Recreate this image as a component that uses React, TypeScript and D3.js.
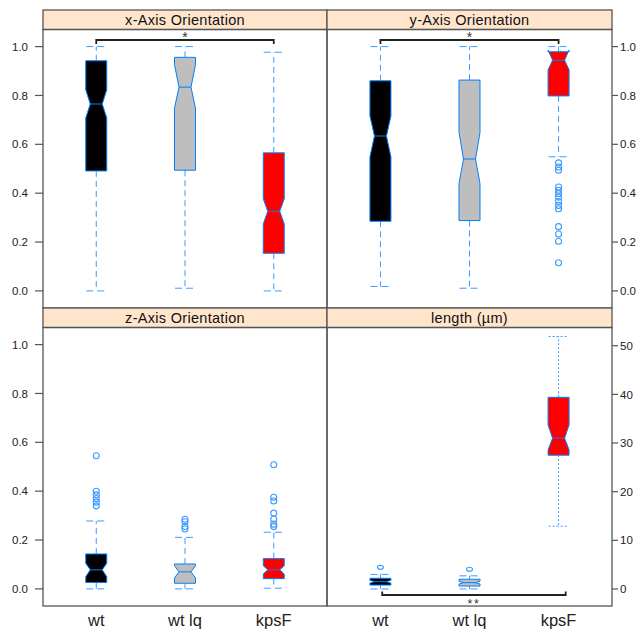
import React from "react";
import * as d3 from "d3";

const categories = ["wt", "wt lq", "kpsF"];
const boxFills = ["#000000", "#bebebe", "#ff0000"];
const panelTitles = ["x-Axis Orientation", "y-Axis Orientation", "z-Axis Orientation", "length (µm)"];

// each entry: [whiskerLow, q1, notchLow, median, notchHigh, q3, whiskerHigh]
const xAxisStats = [
  [0.0, 0.491, 0.708, 0.765, 0.823, 0.942, 1.0],
  [0.011, 0.494, 0.748, 0.834, 0.926, 0.956, 1.0],
  [0.0, 0.154, 0.274, 0.326, 0.377, 0.565, 0.977],
];
const xAxisOutliers = [[], [], []];

const yAxisStats = [
  [0.018, 0.285, 0.549, 0.634, 0.716, 0.86, 1.0],
  [0.011, 0.288, 0.439, 0.54, 0.648, 0.863, 1.0],
  [0.549, 0.798, 0.905, 0.944, 0.986, 0.979, 1.0],
];
const yAxisOutliers = [
  [],
  [],
  [0.524, 0.507, 0.494, 0.425, 0.412, 0.398, 0.384, 0.366, 0.35, 0.336, 0.263, 0.233, 0.203, 0.115],
];

const zAxisStats = [
  [0.0, 0.026, 0.05, 0.078, 0.105, 0.143, 0.278],
  [0.0, 0.023, 0.045, 0.07, 0.095, 0.102, 0.211],
  [0.003, 0.042, 0.061, 0.078, 0.095, 0.124, 0.232],
];
const zAxisOutliers = [
  [0.545, 0.4, 0.385, 0.37, 0.355, 0.34],
  [0.285, 0.275, 0.255, 0.245],
  [0.508, 0.375, 0.36, 0.31, 0.285, 0.265, 0.255],
];

const lengthStats = [
  [0.0, 0.8, 1.2, 1.5, 1.8, 2.2, 3.0],
  [0.0, 0.6, 1.0, 1.3, 1.6, 2.0, 2.7],
  [12.9, 27.5, 28.6, 31.0, 33.7, 39.4, 51.9],
];
const lengthOutliers = [[4.45], [4.05], []];

const unitTicks = [0, 0.2, 0.4, 0.6, 0.8, 1.0];
const lengthTicks = [0, 10, 20, 30, 40, 50];

const bracketPanels = [0, 1, 3];
const bracketFrom = [1, 1, 1.02];
const bracketTo = [3, 3, 3.08];
const bracketLevel = [1.027, 1.027, -1.24];
const bracketLabels = ["*", "*", "**"];

const FONT = "'Liberation Sans', Arial, Helvetica, sans-serif";
const BORDER = "#555555";
const BLUE = "#0080ff";
const WHISK = "#3d9bff";

export default function App() {
  const W = 639, H = 629;
  const cols = [[43, 327], [327, 612]];
  const rows = [
    { strip: 10, top: 29.5, bottom: 308 },
    { strip: 308, top: 327.5, bottom: 606 },
  ];
  const panels = [
    { stats: xAxisStats, out: xAxisOutliers, dom: [-0.07, 1.07], ticks: unitTicks, side: "left", r: 0, c: 0, fine: false },
    { stats: yAxisStats, out: yAxisOutliers, dom: [-0.07, 1.07], ticks: unitTicks, side: "right", r: 0, c: 1, fine: false },
    { stats: zAxisStats, out: zAxisOutliers, dom: [-0.07, 1.07], ticks: unitTicks, side: "left", r: 1, c: 0, fine: false },
    { stats: lengthStats, out: lengthOutliers, dom: [-3.5, 53.75], ticks: lengthTicks, side: "right", r: 1, c: 1, fine: true },
  ];
  const hw = 10.5, ni = 4.5, capHw = 10;

  return (
    <svg width={W} height={H} style={{ position: "absolute", left: 0, top: 0, background: "#fff" }} fontFamily={FONT}>
      {panels.map((p, pi) => {
        const [L, R] = cols[p.c];
        const row = rows[p.r];
        const x = d3.scaleLinear().domain([0.4, 3.6]).range([L, R]);
        const y = d3.scaleLinear().domain(p.dom).range([row.bottom, row.top]);
        const isLen = pi === 3;
        const fmt = isLen ? d3.format("d") : d3.format(".1f");
        return (
          <g key={pi}>
            {/* strip */}
            <rect x={L} y={row.strip} width={R - L} height={row.top - row.strip} fill="#ffe5cc" />
            <text x={(L + R) / 2} y={(row.strip + row.top) / 2 + 5} textAnchor="middle" fontSize={14.5} letterSpacing={0.3} fill="#111">
              {panelTitles[pi]}
            </text>
            {/* boxes */}
            {p.stats.map((s, ci) => {
              const cx = x(ci + 1);
              const [wl, q1, nl, md, nh, q3, wh] = s;
              const dash = p.fine && ci === 2 ? "2,2" : "6,4";
              const pts: [number, number][] = [
                [cx - hw, y(q1)], [cx - hw, y(nl)], [cx - hw + ni, y(md)], [cx - hw, y(nh)], [cx - hw, y(q3)],
                [cx + hw, y(q3)], [cx + hw, y(nh)], [cx + hw - ni, y(md)], [cx + hw, y(nl)], [cx + hw, y(q1)],
              ];
              const path = d3.line()(pts) + "Z";
              return (
                <g key={ci}>
                  <line x1={cx} x2={cx} y1={y(q3)} y2={y(wh)} stroke={WHISK} strokeDasharray={dash} />
                  <line x1={cx} x2={cx} y1={y(q1)} y2={y(wl)} stroke={WHISK} strokeDasharray={dash} />
                  <line x1={cx - capHw} x2={cx + capHw} y1={y(wh)} y2={y(wh)} stroke={WHISK} strokeDasharray={p.fine && ci === 2 ? "2,2" : "7,4"} />
                  <line x1={cx - capHw} x2={cx + capHw} y1={y(wl)} y2={y(wl)} stroke={WHISK} strokeDasharray={p.fine && ci === 2 ? "2,2" : "7,4"} />
                  <path d={path} fill={boxFills[ci]} stroke={BLUE} strokeWidth={1} strokeLinejoin="miter" />
                  <line x1={cx - hw + ni} x2={cx + hw - ni} y1={y(md)} y2={y(md)} stroke={BLUE} strokeWidth={1} />
                  {p.out[ci].map((v, oi) =>
                    isLen ? (
                      <ellipse key={oi} cx={cx} cy={y(v)} rx={3} ry={2} fill="none" stroke={WHISK} strokeWidth={1.1} />
                    ) : (
                      <circle key={oi} cx={cx} cy={y(v)} r={3} fill="none" stroke={WHISK} strokeWidth={1.1} />
                    )
                  )}
                </g>
              );
            })}
            {/* brackets */}
            {bracketPanels.map((bp, bi) => {
              if (bp !== pi) return null;
              const x1 = x(bracketFrom[bi]);
              const x2 = x(bracketTo[bi]);
              const yl = y(bracketLevel[bi]);
              const up = bracketLevel[bi] < 0;
              const tick = up ? -3.5 : 4;
              return (
                <g key={"b" + bi}>
                  <path d={`M${x1},${yl + tick}V${yl}H${x2}V${yl + tick}`} fill="none" stroke="#222" strokeWidth={1.8} />
                  <text x={(x1 + x2) / 2} y={up ? yl + 12.5 : yl + 2} textAnchor="middle" fontSize={up ? 12.5 : 14} letterSpacing={up ? 1.5 : 0} fill="#333">
                    {bracketLabels[bi]}
                  </text>
                </g>
              );
            })}
            {/* axis */}
            {p.ticks.map((t, ti) => {
              const ty = y(t);
              return p.side === "left" ? (
                <g key={"t" + ti}>
                  <line x1={L - 8} x2={L} y1={ty} y2={ty} stroke={BORDER} strokeWidth={1.2} />
                  <text x={L - 15} y={ty} dy="0.36em" textAnchor="end" fontSize={11.5} fill="#222">{fmt(t)}</text>
                </g>
              ) : (
                <g key={"t" + ti}>
                  <line x1={R} x2={R + 6} y1={ty} y2={ty} stroke={BORDER} strokeWidth={1.2} />
                  <text x={R + 8} y={ty} dy="0.36em" textAnchor="start" fontSize={11.5} fill="#222">{fmt(t)}</text>
                </g>
              );
            })}
            {p.r === 1 &&
              categories.map((c, ci) => (
                <text key={"x" + ci} x={x(ci + 1)} y={626} textAnchor="middle" fontSize={16.5} fill="#222">
                  {c}
                </text>
              ))}
            {/* borders */}
            <rect x={L} y={row.strip} width={R - L} height={row.top - row.strip} fill="none" stroke={BORDER} strokeWidth={1.3} />
            <rect x={L} y={row.top} width={R - L} height={row.bottom - row.top} fill="none" stroke={BORDER} strokeWidth={1.3} />
          </g>
        );
      })}
    </svg>
  );
}
